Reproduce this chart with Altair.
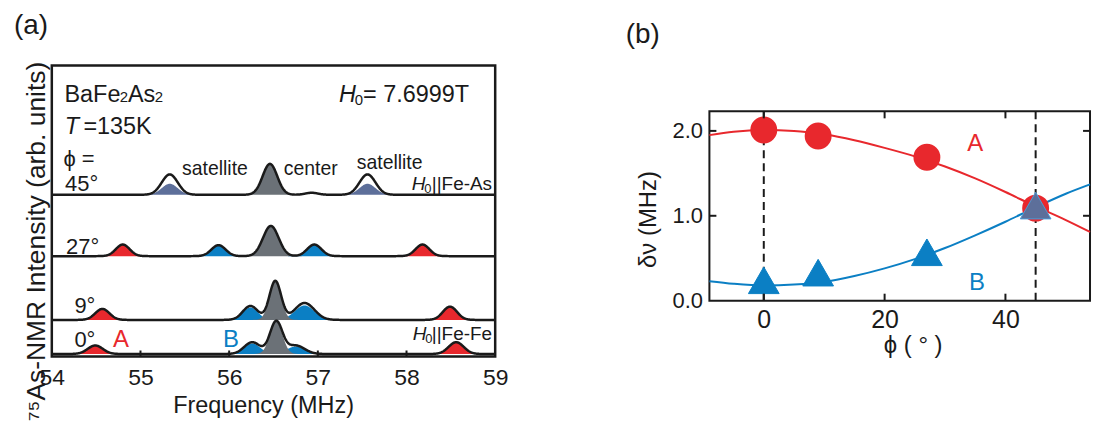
import altair as alt
import numpy as np
import pandas as pd

FONT = "Liberation Sans"
RED = "#e8282d"
BLUE = "#0b7fc4"
GRAY = "#6b7177"
SLATE = "#5d6f9a"
INK = "#1a1a1a"

# ---------------- panel (a) data: NMR spectra (peaks) ----------------
spec_names = ["0°", "9°", "27°", "45°"]
spec_base = [2.5, 36.7, 100.7, 162.3]          # baseline offset of each trace (arb. units)

pk_spec = [0, 0, 0, 0, 0, 1, 1, 1, 1, 1, 2, 2, 2, 2, 2, 3, 3, 3, 3]
pk_kind = ["A", "B", "C", "B", "A", "A", "B", "C", "B", "A",
           "A", "B", "C", "B", "A", "AB", "C", "AB", "none"]
pk_center = [54.49, 56.26, 56.53, 56.75, 58.56,
             54.57, 56.24, 56.52, 56.85, 58.49,
             54.80, 55.88, 56.47, 56.96, 58.18,
             55.33, 56.46, 57.56, 56.93]
pk_height = [8.5, 11.8, 32.5, 8.5, 11.8,
             11.0, 14.0, 39.0, 17.0, 13.3,
             11.6, 11.0, 30.3, 11.6, 11.6,
             20.4, 31.0, 20.4, 2.0]
pk_fill = [8.5, 10.5, 32.5, 7.5, 11.8,
           11.0, 12.5, 39.0, 14.5, 13.3,
           11.6, 11.0, 30.3, 11.6, 11.6,
           11.0, 31.0, 11.0, 0.0]
pk_sigma = [0.085, 0.09, 0.07, 0.10, 0.085,
            0.08, 0.085, 0.066, 0.11, 0.08,
            0.078, 0.08, 0.088, 0.08, 0.078,
            0.09, 0.082, 0.09, 0.07]

freq = np.round(np.arange(54.0, 59.0001, 0.005), 4)
line_rows = []
for si, name in enumerate(spec_names):
    tot = np.zeros_like(freq)
    for k in range(len(pk_spec)):
        if pk_spec[k] == si:
            tot += pk_height[k] * np.exp(-(freq - pk_center[k]) ** 2 / (2 * pk_sigma[k] ** 2))
    for f, v in zip(freq, tot):
        line_rows.append({"spec": name, "f": f, "y": spec_base[si] + v})
line_df = pd.DataFrame(line_rows)

fill_rows = []
for k in range(len(pk_spec)):
    if pk_fill[k] <= 0:
        continue
    si = pk_spec[k]
    mask = np.abs(freq - pk_center[k]) <= 4 * pk_sigma[k]
    for f in freq[mask]:
        v = pk_fill[k] * np.exp(-(f - pk_center[k]) ** 2 / (2 * pk_sigma[k] ** 2))
        fill_rows.append({"pid": k, "kind": pk_kind[k], "f": f,
                          "y": spec_base[si] + v, "y0": spec_base[si]})
fill_df = pd.DataFrame(fill_rows)

a_ticks = [55, 56, 57, 58]

WA, HA = 445, 292
xa = alt.Scale(domain=[54, 59], nice=False)
ya = alt.Scale(domain=[0, HA], nice=False)

kind_scale = alt.Scale(domain=["A", "B", "C", "AB"], range=[RED, BLUE, GRAY, SLATE])

x_axis_a = alt.Axis(values=[54, 55, 56, 57, 58, 59], format="d", ticks=False, tickSize=0,
                    domain=False, grid=False, labelFontSize=23, labelFont=FONT,
                    labelPadding=28, labelBaseline="alphabetic", labelColor=INK,
                    labelFlush=False,
                    title="Frequency (MHz)", titleFontSize=23.5, titleFont=FONT,
                    titleFontWeight="normal", titleColor=INK,
                    titleX=212, titleY=56, titleBaseline="alphabetic", titleAlign="center")
y_axis_a = alt.Axis(labels=False, ticks=False, domain=False, grid=False,
                    title="⁷⁵As-NMR Intensity (arb. units)", titleFontSize=26.5, titleFont=FONT,
                    titleFontWeight="normal", titleColor=INK, titleAngle=270,
                    titleX=-7, titleY=176, titleAlign="center", titleBaseline="alphabetic")

fills_side = alt.Chart(fill_df[fill_df.kind.isin(["A", "B", "AB"])]).mark_area(clip=True).encode(
    x=alt.X("f:Q", scale=xa, axis=x_axis_a),
    y=alt.Y("y:Q", scale=ya, axis=y_axis_a),
    y2="y0:Q",
    color=alt.Color("kind:N", scale=kind_scale, legend=None),
    detail="pid:N",
)
fills_center = alt.Chart(fill_df[fill_df.kind == "C"]).mark_area(clip=True).encode(
    x=alt.X("f:Q", scale=xa),
    y=alt.Y("y:Q", scale=ya),
    y2="y0:Q",
    color=alt.Color("kind:N", scale=kind_scale, legend=None),
    detail="pid:N",
)
outline = alt.Chart(line_df).mark_line(color=INK, strokeWidth=2.5, clip=True).encode(
    x=alt.X("f:Q", scale=xa),
    y=alt.Y("y:Q", scale=ya),
    detail="spec:N",
)
ticks_a = alt.Chart(pd.DataFrame({"t": a_ticks})).mark_rule(color=INK, strokeWidth=2).encode(
    x=alt.X("t:Q", scale=xa), y=alt.value(HA), y2=alt.value(HA - 6)
)

# annotation texts: (x MHz, y units, text, size, style, align, color)
a_texts = [
    (54.143, 255, "BaFe", 23.5, "normal", "left", INK),
    (54.766, 255, "2", 15, "normal", "left", INK),
    (54.858, 255, "As", 23.5, "normal", "left", INK),
    (55.162, 255, "2", 15, "normal", "left", INK),
    (54.146, 223.3, "T", 23.5, "italic", "left", INK),
    (54.356, 223.3, "=135K", 23.5, "normal", "left", INK),
    (57.239, 255, "H", 23.5, "italic", "left", INK),
    (57.415, 252, "0", 15, "normal", "left", INK),
    (57.51, 255, "= 7.6999T", 23.5, "normal", "left", INK),
    (54.131, 191, "ϕ =", 22, "normal", "left", INK),
    (54.149, 166, "45°", 22, "normal", "left", INK),
    (55.84, 181.7, "satellite", 19.5, "normal", "center", INK),
    (56.92, 181.7, "center", 19.5, "normal", "center", INK),
    (57.81, 188.3, "satellite", 19.5, "normal", "center", INK),
    (58.06, 166.7, "H", 19, "italic", "left", INK),
    (58.2, 164.0, "0", 13, "normal", "left", INK),
    (58.285, 166.7, "||Fe-As", 19, "normal", "left", INK),
    (54.161, 103.3, "27°", 22, "normal", "left", INK),
    (54.255, 43.3, "9°", 22, "normal", "left", INK),
    (54.255, 9.3, "0°", 22, "normal", "left", INK),
    (54.78, 10, "A", 24, "normal", "center", RED),
    (56.02, 10, "B", 24, "normal", "center", BLUE),
    (58.07, 16.7, "H", 19, "italic", "left", INK),
    (58.21, 14.0, "0", 13, "normal", "left", INK),
    (58.285, 16.7, "||Fe-Fe", 19, "normal", "left", INK),
]
a_text_layers = []
for (tx, ty, s, size, style, align, col) in a_texts:
    a_text_layers.append(
        alt.Chart(pd.DataFrame({"x": [tx], "y": [ty], "s": [s]})).mark_text(
            font=FONT, fontSize=size, fontStyle=style, align=align,
            baseline="alphabetic", color=col
        ).encode(x=alt.X("x:Q", scale=xa), y=alt.Y("y:Q", scale=ya), text="s:N")
    )

panel_a = alt.layer(fills_side, fills_center, outline, ticks_a, *a_text_layers).properties(
    width=WA, height=HA,
    title=alt.TitleParams("(a)", anchor="start", frame="group", dx=-38, dy=1, fontSize=28,
                          font=FONT, fontWeight="normal", offset=0, baseline="alphabetic",
                          color=INK),
    view=alt.ViewBackground(stroke=INK, strokeWidth=2.5),
)

# ---------------- panel (b) data ----------------
phi_pts = [0, 9, 27, 45]
A_pts = [2.01, 1.94, 1.69, 1.09]
B_pts = [0.24, 0.33, 0.57, 1.12]

curve_phi = [-9, -5, 0, 5, 10, 15, 20, 25, 30, 35, 40, 45, 50, 54]
curve_A = [1.95, 1.99, 2.01, 2.00, 1.96, 1.89, 1.80, 1.70, 1.58, 1.44, 1.28, 1.11, 0.95, 0.81]
curve_B = [0.23, 0.20, 0.18, 0.19, 0.22, 0.29, 0.38, 0.49, 0.62, 0.77, 0.93, 1.10, 1.26, 1.37]

dash_phi = [0, 45]
b_xticks = [0, 20, 40]
b_yticks = [1.0, 2.0]

WB, HBP, OFF = 382, 190, 46          # plot width, plot height, empty band above the frame
HB = HBP + OFF
xb = alt.Scale(domain=[-9, 54], nice=False)
yb = alt.Scale(domain=[0, 2.23], nice=False, range=[HB, OFF])

x_axis_b = alt.Axis(values=b_xticks, ticks=False, tickSize=0, domain=False, grid=False,
                    labelFontSize=25, labelFont=FONT, labelPadding=27, labelFlush=False,
                    labelBaseline="alphabetic", labelColor=INK,
                    title="ϕ ( ° )", titleFontSize=24, titleFont=FONT, titleFontWeight="normal",
                    titleColor=INK, titleX=204, titleY=52, titleBaseline="alphabetic",
                    titleAlign="center")
y_axis_b = alt.Axis(values=[0, 1, 2], format=".1f", ticks=False, tickSize=0, domain=False,
                    grid=False, labelFontSize=22, labelFont=FONT, labelPadding=7,
                    labelColor=INK, labelFlush=False,
                    title="δν (MHz)", titleFontSize=24, titleFont=FONT, titleFontWeight="normal",
                    titleColor=INK, titleAngle=270, titleX=-54, titleY=154,
                    titleAlign="center", titleBaseline="alphabetic")

curve_df = pd.DataFrame({"phi": curve_phi * 2, "v": curve_A + curve_B,
                         "s": ["A"] * len(curve_phi) + ["B"] * len(curve_phi)})
pts_A = pd.DataFrame({"phi": phi_pts, "v": A_pts})
pts_B = pd.DataFrame({"phi": phi_pts, "v": B_pts})

frame_b = alt.Chart(pd.DataFrame({"k": [0]})).mark_rect(
    fillOpacity=0, stroke=INK, strokeWidth=2
).encode(x=alt.value(0), x2=alt.value(WB), y=alt.value(OFF), y2=alt.value(HB))

dashes = alt.Chart(pd.DataFrame({"phi": dash_phi})).mark_rule(
    color=INK, strokeWidth=2, strokeDash=[8, 5]
).encode(x=alt.X("phi:Q", scale=xb, axis=x_axis_b), y=alt.value(OFF), y2=alt.value(HB))

curves = alt.Chart(curve_df).mark_line(strokeWidth=2, interpolate="monotone").encode(
    x=alt.X("phi:Q", scale=xb),
    y=alt.Y("v:Q", scale=yb, axis=y_axis_b),
    color=alt.Color("s:N", scale=alt.Scale(domain=["A", "B"], range=[RED, BLUE]), legend=None),
)
circ = alt.Chart(pts_A).mark_point(shape="circle", filled=True, size=730, opacity=1,
                                     color=RED).encode(
    x=alt.X("phi:Q", scale=xb), y=alt.Y("v:Q", scale=yb))
tri = alt.Chart(pts_B).mark_point(shape="triangle-up", filled=True, size=950, opacity=1,
                                    strokeWidth=1).encode(
    x=alt.X("phi:Q", scale=xb), y=alt.Y("v:Q", scale=yb),
    fill=alt.condition(alt.datum.phi == 45, alt.value(SLATE), alt.value(BLUE)),
    stroke=alt.condition(alt.datum.phi == 45, alt.value("#4b9bd6"), alt.value(BLUE)),
)
b_texts = [(35.0, 1.767, "A", RED), (35.3, 0.125, "B", BLUE)]
b_text_layers = []
for (tx, ty, s, col) in b_texts:
    b_text_layers.append(
        alt.Chart(pd.DataFrame({"x": [tx], "y": [ty], "s": [s]})).mark_text(
            font=FONT, fontSize=24, align="center", baseline="alphabetic", color=col
        ).encode(x=alt.X("x:Q", scale=xb), y=alt.Y("y:Q", scale=yb), text="s:N")
    )

xt = pd.DataFrame({"t": b_xticks})
yt = pd.DataFrame({"t": b_yticks})
tk_bot = alt.Chart(xt).mark_rule(color=INK, strokeWidth=2).encode(
    x=alt.X("t:Q", scale=xb), y=alt.value(HB), y2=alt.value(HB - 7))
tk_top = alt.Chart(xt).mark_rule(color=INK, strokeWidth=2).encode(
    x=alt.X("t:Q", scale=xb), y=alt.value(OFF), y2=alt.value(OFF + 7))
tk_left = alt.Chart(yt).mark_rule(color=INK, strokeWidth=2).encode(
    y=alt.Y("t:Q", scale=yb), x=alt.value(0), x2=alt.value(7))
tk_right = alt.Chart(yt).mark_rule(color=INK, strokeWidth=2).encode(
    y=alt.Y("t:Q", scale=yb), x=alt.value(WB), x2=alt.value(WB - 7))

panel_b = alt.layer(frame_b, dashes, curves, circ, tri, *b_text_layers,
                    tk_bot, tk_top, tk_left, tk_right).properties(
    width=WB, height=HB,
    title=alt.TitleParams("(b)", anchor="start", frame="group", dx=-84, dy=5, fontSize=28,
                          font=FONT, fontWeight="normal", offset=0, baseline="alphabetic",
                          color=INK),
    view=alt.ViewBackground(stroke="transparent", strokeWidth=0),
)

chart = alt.hconcat(panel_a, panel_b, spacing=116).properties(
    padding={"left": 12, "top": 10, "right": 0, "bottom": 0}
).configure(font=FONT)

chart.save("out.html", embed_options={"renderer": "svg", "actions": False})
